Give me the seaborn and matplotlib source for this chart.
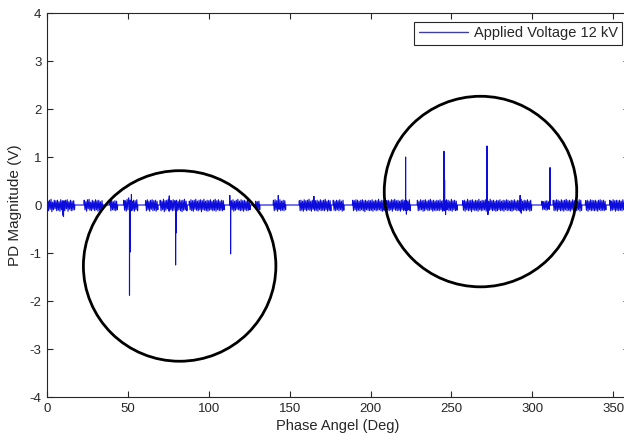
import matplotlib
matplotlib.use("Agg")
import matplotlib.pyplot as plt
from matplotlib.patches import Ellipse
import pandas as pd
import seaborn as sns

# ---- data -------------------------------------------------------------
# Background noise bursts: start phase (deg) and sampled magnitudes (V),
# sampled every half degree.
sample_step = 0.5
burst_start = [0.5, 23, 39, 47.5, 61, 70, 88, 113, 129, 140, 156, 177,
               189, 210, 229, 257, 306, 313, 333, 348]
burst_values = [
    [.08, -.12, .10, -.09, .12, -.14, .06, -.10, .10, -.08, .09, -.12, .10, -.11, .07, -.13,
     .11, -.10, .09, -.22, .09, -.12, .10, -.08, .11, -.13, .07, -.09, .10, -.12, .08, -.11,
     .09, -.10],
    [.10, -.10, .07, -.13, .11, -.08, .12, -.11, .06, -.12, .10, -.09, .08, -.12, .11, -.10,
     .09, -.13, .10, -.11, .07, -.12, .09, -.10],
    [.08, -.12, .10, -.10, .07, -.11, .09, -.12, .08, -.10],
    [.10, -.11, .09, -.13, .12, -.10, .15, -.12, .10, -.12, .08, -.11, .10, -.13, .09, -.10,
     .11, -.12],
    [.09, -.12, .11, -.10, .08, -.13, .10, -.09, .11, -.12, .09, -.11, .10, -.13, .08, -.10],
    [.10, -.12, .08, -.10, .12, -.14, .09, -.11, .10, -.08, .12, -.13, .10, -.10, .09, -.12,
     .11, -.11, .09, -.13, .10, -.12, .08, -.10, .11, -.12, .09, -.14, .10, -.11, .12, -.10,
     .08, -.12],
    [.08, -.10, .11, -.12, .09, -.13, .10, -.09, .12, -.11, .08, -.12, .10, -.10, .11, -.14,
     .09, -.10, .12, -.11, .08, -.12, .10, -.13, .09, -.11, .11, -.10, .08, -.12, .10, -.11,
     .12, -.13, .09, -.10, .11, -.12, .08, -.11, .10, -.12, .09, -.10],
    [.10, -.12, .09, -.10, .11, -.13, .08, -.11, .10, -.09, .12, -.10, .08, -.12, .11, -.11,
     .09, -.13, .10, -.10, .08, -.12, .11, -.11, .09, -.10],
    [.08, -.10, .07, -.09, .08, -.10],
    [.10, -.12, .11, -.10, .09, -.13, .10, -.09, .11, -.12, .08, -.11, .10, -.12, .09, -.10],
    [.09, -.12, .10, -.11, .08, -.13, .11, -.10, .09, -.12, .10, -.10, .12, -.11, .08, -.13,
     .10, -.09, .11, -.12, .09, -.11, .10, -.13, .08, -.10, .11, -.12, .09, -.11, .10, -.12,
     .12, -.10, .08, -.13, .10, -.11, .09, -.12],
    [.10, -.11, .08, -.12, .10, -.10, .09, -.12, .11, -.10, .08, -.13, .10, -.11],
    [.10, -.12, .09, -.10, .11, -.13, .10, -.11, .08, -.12, .10, -.10, .11, -.12, .09, -.14,
     .10, -.10, .08, -.11, .10, -.12, .09, -.11, .11, -.13, .08, -.10, .10, -.12, .09, -.11,
     .12, -.10, .08, -.12, .10, -.13, .09, -.11],
    [.09, -.11, .10, -.12, .08, -.10, .11, -.13, .10, -.09, .12, -.11, .09, -.12, .10, -.11,
     .08, -.13, .10, -.10, .11, -.12, .09, -.11, .10, -.12, .08, -.10, .11, -.12],
    [.10, -.12, .08, -.11, .11, -.10, .09, -.13, .10, -.12, .11, -.09, .08, -.12, .10, -.11,
     .12, -.10, .09, -.13, .10, -.11, .08, -.12, .10, -.11, .09, -.12, .11, -.10, .08, -.13,
     .10, -.12, .09, -.11, .11, -.10, .10, -.12, .08, -.11, .12, -.13, .09, -.10, .10, -.12,
     .08, -.11],
    [.09, -.11, .10, -.13, .08, -.10, .12, -.12, .09, -.11, .10, -.14, .11, -.10, .08, -.12,
     .10, -.11, .09, -.13, .12, -.10, .08, -.12, .10, -.11, .09, -.10, .11, -.13, .10, -.12,
     .08, -.11, .12, -.10, .09, -.12, .10, -.11, .08, -.13, .10, -.12, .09, -.10, .11, -.12,
     .08, -.11, .10, -.13, .09, -.10, .11, -.12, .10, -.11, .08, -.12, .10, -.13, .09, -.11,
     .11, -.10, .08, -.12, .10, -.11, .09, -.13, .12, -.10, .08, -.12, .10, -.11, .09, -.12,
     .11, -.10, .08, -.13, .10, -.11],
    [.08, -.10, .07, -.09, .08, -.11, .09, -.10, .07, -.09],
    [.10, -.12, .09, -.11, .11, -.13, .10, -.10, .08, -.12, .11, -.11, .09, -.13, .10, -.10,
     .12, -.12, .09, -.11, .10, -.13, .08, -.10, .11, -.12, .09, -.11, .10, -.12, .08, -.10,
     .11, -.13, .10, -.11],
    [.09, -.11, .10, -.13, .08, -.10, .11, -.12, .10, -.11, .09, -.12, .10, -.11, .08, -.13,
     .10, -.10, .11, -.12, .09, -.11, .10, -.12, .08, -.10],
    [.10, -.12, .08, -.11, .11, -.10, .09, -.13, .10, -.11, .09, -.12, .10, -.11, .08, -.12,
     .11, -.10, .09, -.12, .14, -.08],
]

# Discharge pulses (phase in deg, magnitude in V)
pulse_phase = [10.2, 51.0, 51.4, 52.2, 75.6, 79.5, 79.9, 113.0, 113.5, 143.0, 165.0,
               221.7, 222.2, 245.4, 245.8, 246.4, 272.0, 272.6, 292.5, 293.2, 311.0]
pulse_mag = [-0.24, -1.88, -0.98, 0.22, 0.19, -1.25, -0.58, 0.2, -1.02, 0.2, 0.18,
             1.00, -0.19, 1.12, 0.52, -0.20, 1.23, -0.20, 0.2, -0.17, 0.78]

series_label = "Applied Voltage 12 kV"
x_ticks = [0, 50, 100, 150, 200, 250, 300, 350]
y_ticks = [-4, -3, -2, -1, 0, 1, 2, 3, 4]

# Highlighted regions: centre (deg, V), width (deg), height (V)
circle_centres = [(82.0, -1.27), (268.0, 0.28)]
circle_width = 119.0
circle_height = 3.97

# ---- build the trace --------------------------------------------------
pts = [(0.0, 0.0), (360.0, 0.0)]
for s, vals in zip(burst_start, burst_values):
    pts.append((s - 0.2, 0.0))
    for i, v in enumerate(vals):
        pts.append((s + i * sample_step, v))
    pts.append((s + len(vals) * sample_step - 0.3, 0.0))
for p, m in zip(pulse_phase, pulse_mag):
    pts.extend([(p - 0.05, 0.0), (p, m), (p + 0.05, 0.0)])
pts.sort(key=lambda t: t[0])
trace = pd.DataFrame(pts, columns=["phase", "magnitude"])

# ---- figure -----------------------------------------------------------
sns.set_theme(style="ticks")
plt.rcParams["font.family"] = ["Liberation Sans", "DejaVu Sans"]
plt.rcParams["axes.unicode_minus"] = False

fig = plt.figure(figsize=(6.24, 4.36), dpi=100)
ax = fig.add_axes([47 / 624, 39 / 436, 582.3 / 624, 384 / 436])

line_color = "#0c0cdc"
sns.lineplot(data=trace, x="phase", y="magnitude", ax=ax, sort=False,
             estimator=None, color=line_color, linewidth=0.8, label=series_label)

for c in circle_centres:
    ax.add_patch(Ellipse(c, circle_width, circle_height, fill=False,
                         edgecolor="black", linewidth=2.0, zorder=5))

ax.set_xlim(0, 360)
ax.set_ylim(-4, 4)
ax.set_xticks(x_ticks)
ax.set_yticks(y_ticks)
ax.tick_params(direction="in", top=True, right=True, length=4, width=0.8,
               labelsize=9.5, colors="#262626", pad=4)
for sp in ax.spines.values():
    sp.set_color("#262626")
    sp.set_linewidth(0.8)
ax.set_xlabel("Phase Angel (Deg)", fontsize=10.5, labelpad=3, color="#262626")
ax.set_ylabel("PD Magnitude (V)", fontsize=11, labelpad=5, color="#262626")

leg = ax.legend(loc="upper right", bbox_to_anchor=(1 - 7 / 582, 1 - 9 / 384),
                borderaxespad=0, fontsize=10.5, frameon=True, fancybox=False,
                framealpha=1, edgecolor="#262626", handlelength=3.4,
                borderpad=0.3, handletextpad=0.4)
leg.get_frame().set_linewidth(0.8)
leg.get_lines()[0].set_color("#40409a")
leg.get_lines()[0].set_linewidth(1.0)

fig.savefig("out.png", dpi=100)
